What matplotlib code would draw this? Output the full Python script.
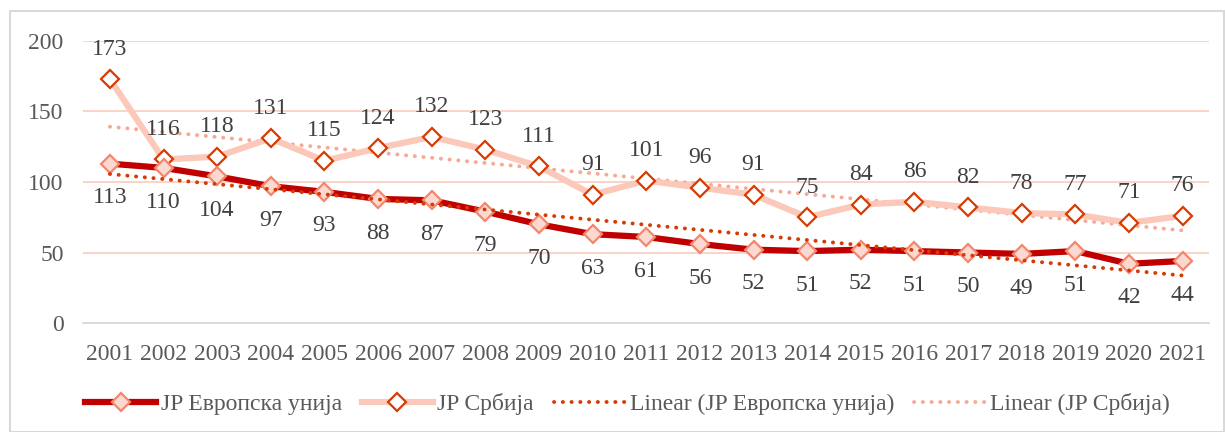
import matplotlib.pyplot as plt
from matplotlib.patches import Rectangle
import numpy as np

plt.rcParams['font.family'] = ['Liberation Serif', 'DejaVu Serif']

years = [str(y) for y in range(2001, 2022)]
eu = [113, 110, 104, 97, 93, 88, 87, 79, 70, 63, 61, 56, 52, 51, 52, 51, 50, 49, 51, 42, 44]
srb = [173, 116, 118, 131, 115, 124, 132, 123, 111, 91, 101, 96, 91, 75, 84, 86, 82, 78, 77, 71, 76]

x = np.arange(len(years))
eu_fit = np.polyval(np.polyfit(x, eu, 1), x)
srb_fit = np.polyval(np.polyfit(x, srb, 1), x)

fig = plt.figure(figsize=(12.25, 4.32), dpi=100)
ax = fig.add_axes([0.0678, 0.2523, 0.9195, 0.6528])

fig.patches.append(Rectangle((0.008, 0.0), 0.991, 0.975, transform=fig.transFigure,
                             fill=False, edgecolor='#d9d9d9', linewidth=1.5))

dots = (0, (0.05, 2.2))
ax.plot(x, srb, color='#fbc8b9', lw=4.5, marker='D', ms=9, mfc='white', mec='#d83b01',
        mew=1.6, label='JP Србија', zorder=3)
ax.plot(x, eu, color='#c00000', lw=4.5, marker='D', ms=9, mfc='#fcd9d0', mec='#f4866e',
        mew=1.6, label='JP Европска унија', zorder=4)
ax.plot(x, eu_fit, color='#d83b01', lw=2.8, ls=dots, dash_capstyle='round',
        label='Linear (JP Европска унија)', zorder=5)
ax.plot(x, srb_fit, color='#f8a995', lw=2.8, ls=dots, dash_capstyle='round',
        label='Linear (JP Србија)', zorder=2)

for i in range(len(x)):
    ax.annotate(str(srb[i]), (x[i], srb[i]), xytext=(0, 14), textcoords='offset points',
                ha='center', va='bottom', fontsize=17, color='#404040')
    ax.annotate(str(eu[i]), (x[i], eu[i]), xytext=(0, -17), textcoords='offset points',
                ha='center', va='top', fontsize=17, color='#404040')

ax.set_xlim(-0.5, len(x) - 0.5)
ax.set_ylim(0, 200)
ax.set_yticks([0, 50, 100, 150, 200])
ax.set_xticks(x)
ax.set_xticklabels(years)
ax.tick_params(axis='both', length=0, labelsize=17, colors='#595959')
ax.tick_params(axis='y', pad=14)
ax.tick_params(axis='x', pad=15)
ax.grid(axis='y', color='#fbd0c3', lw=1.3)
ax.set_axisbelow(True)
for s in ['top', 'right', 'left']:
    ax.spines[s].set_visible(False)
ax.spines['bottom'].set_color('#d9d9d9')
ax.spines['bottom'].set_linewidth(1.3)

h, l = ax.get_legend_handles_labels()
order = [1, 0, 2, 3]
fig.legend([h[i] for i in order], [l[i] for i in order], loc='center', bbox_to_anchor=(0.512, 0.065),
           ncol=4, frameon=False, fontsize=17, handlelength=3.0, columnspacing=0.85,
           handletextpad=0.2, labelcolor='#595959')

fig.savefig('out.png', dpi=100)
